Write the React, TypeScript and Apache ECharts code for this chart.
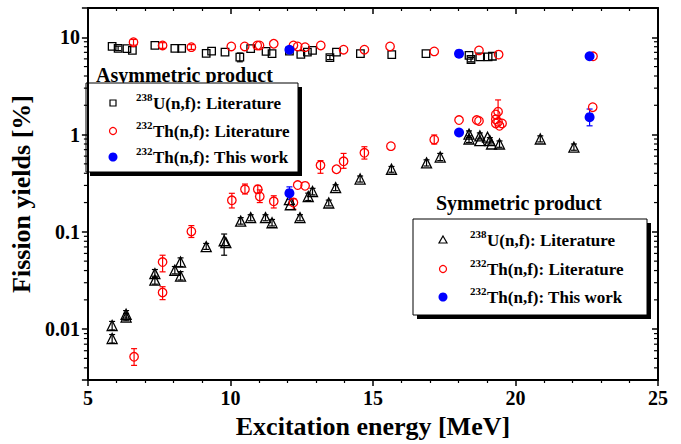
import React, { useEffect, useRef } from 'react';
import * as echarts from 'echarts';

const FONT = '"Liberation Serif", "Times New Roman", serif';

const X_MIN = 5;
const X_MAX = 25;
const Y_MIN = 0.003;
const Y_MAX = 20;
const yTickLabels = ['0.01', '0.1', '1', '10'];

// Asymmetric product
const uAsym: number[][] = [
  [5.85, 8.05], [6.06, 7.69], [6.37, 7.63], [6.56, 7.33], [7.35, 8.24], [8.05, 7.69], [8.29, 7.69],
  [9.15, 6.84], [9.34, 7.22], [9.81, 7.05], [10.33, 6.24], [10.71, 7.63], [11.25, 7.16], [11.46, 6.78],
  [12.07, 7.2], [12.47, 6.68], [12.70, 7.05], [12.88, 7.33], [13.49, 6.19], [13.72, 7.05], [14.56, 6.78],
  [15.66, 6.64], [16.86, 6.78], [18.37, 6.53], [18.44, 5.91], [18.75, 6.28], [19.04, 6.28], [19.19, 6.38],
];
const uAsymErr: number[][] = [
  [6.06, 7.3, 8.1], [10.33, 5.6, 6.9], [18.44, 5.6, 6.2], [13.49, 5.9, 6.5],
];
const thAsym: number[][] = [
  [6.60, 8.9], [7.62, 8.24], [8.63, 7.92], [10.03, 8.05], [10.50, 8.05], [10.94, 8.24], [11.02, 8.24],
  [11.52, 8.58], [12.21, 8.24], [12.36, 8.05], [12.62, 7.92], [13.17, 8.24], [13.97, 7.45], [14.70, 7.45],
  [15.60, 8.05], [17.15, 7.16], [18.72, 7.33], [19.41, 6.64], [22.72, 6.38],
];
const thAsymErr: number[][] = [
  [6.60, 8.3, 9.5], [7.62, 7.7, 8.8], [8.63, 7.5, 8.4],
];
const thAsymWork: number[][] = [
  [12.07, 7.45], [18.02, 6.78], [22.60, 6.38],
];

// Symmetric product
const uSym: number[][] = [
  [5.85, 0.0109], [5.85, 0.0080], [6.34, 0.0142], [6.34, 0.0133], [7.35, 0.0372], [7.35, 0.0319],
  [8.05, 0.0403], [8.25, 0.0489], [8.25, 0.0351], [9.15, 0.0705], [9.78, 0.081], [9.84, 0.0775],
  [10.36, 0.129], [10.71, 0.140], [11.23, 0.140], [11.46, 0.124], [12.07, 0.214], [12.10, 0.19],
  [12.44, 0.140], [12.73, 0.231], [12.88, 0.260], [13.45, 0.198], [13.69, 0.285], [14.55, 0.349],
  [15.65, 0.44], [16.88, 0.512], [17.36, 0.587], [18.37, 1.01], [18.37, 0.90], [18.75, 0.97],
  [18.75, 0.866], [19.02, 0.94], [19.10, 0.866], [19.16, 0.80], [19.44, 0.80], [20.87, 0.90], [22.05, 0.742],
];
const uSymErr: number[][] = [
  [5.85, 0.0098, 0.0120], [5.85, 0.0072, 0.0088], [6.34, 0.0130, 0.0155], [6.34, 0.0122, 0.0145],
  [7.35, 0.034, 0.041], [7.35, 0.029, 0.035], [8.05, 0.037, 0.044], [8.25, 0.044, 0.054],
  [8.25, 0.032, 0.039], [9.15, 0.066, 0.076], [9.78, 0.0575, 0.095], [10.36, 0.12, 0.14],
  [10.71, 0.13, 0.15], [11.23, 0.13, 0.15], [11.46, 0.115, 0.134], [12.07, 0.19, 0.24],
  [12.44, 0.13, 0.15], [12.73, 0.21, 0.25], [12.88, 0.24, 0.28], [13.45, 0.185, 0.212],
  [13.69, 0.265, 0.305], [14.55, 0.325, 0.375], [15.65, 0.41, 0.47], [16.88, 0.475, 0.55],
  [17.36, 0.54, 0.64], [18.37, 0.93, 1.09], [18.37, 0.83, 0.97], [18.75, 0.90, 1.04],
  [19.10, 0.80, 0.93], [19.44, 0.74, 0.86], [20.87, 0.84, 0.97], [22.05, 0.69, 0.80],
];
const thSym: number[][] = [
  [6.62, 0.0052], [7.62, 0.0238], [7.62, 0.0489], [8.63, 0.101], [10.05, 0.211], [10.51, 0.274],
  [10.96, 0.274], [11.03, 0.231], [11.52, 0.206], [12.21, 0.20], [12.36, 0.303], [12.62, 0.297],
  [13.16, 0.483], [13.72, 0.44], [13.97, 0.531], [14.70, 0.65], [15.63, 0.76], [17.15, 0.886],
  [18.02, 1.41], [18.64, 1.41], [18.72, 1.38], [19.31, 1.61], [19.39, 1.72], [19.31, 1.436],
  [19.39, 1.35], [19.31, 1.30], [19.53, 1.30], [19.44, 1.23], [22.71, 1.91],
];
const thSymErr: number[][] = [
  [6.62, 0.00424, 0.0063], [7.62, 0.0201, 0.0273], [7.62, 0.0388, 0.0575], [8.63, 0.0875, 0.116],
  [10.05, 0.176, 0.249], [10.51, 0.245, 0.31], [10.96, 0.25, 0.30], [11.03, 0.20, 0.27],
  [11.52, 0.176, 0.235], [12.21, 0.17, 0.22], [13.16, 0.40, 0.54], [13.97, 0.45, 0.64],
  [14.70, 0.56, 0.75], [17.15, 0.80, 0.99], [19.39, 1.45, 2.27],
];
const thSymWork: number[][] = [
  [12.07, 0.25], [18.02, 1.05], [22.60, 1.51],
];
const thSymWorkErr: number[][] = [
  [12.07, 0.215, 0.29], [22.60, 1.23, 1.83],
];

const BLACK = '#000000';
const RED = '#ff0000';
const BLUE = '#0000ff';

function errSeries(data: number[][], color: string) {
  return {
    type: 'custom',
    xAxisIndex: 0,
    yAxisIndex: 0,
    silent: true,
    clip: false,
    z: 3,
    data,
    encode: { x: 0, y: [1, 2] },
    renderItem: (_p: any, api: any) => {
      const x = api.value(0);
      const a = api.coord([x, api.value(1)]);
      const b = api.coord([x, api.value(2)]);
      const w = 3;
      const st = { stroke: color, lineWidth: 1.2, fill: 'none' };
      return {
        type: 'group',
        children: [
          { type: 'line', shape: { x1: a[0], y1: a[1], x2: b[0], y2: b[1] }, style: st },
          { type: 'line', shape: { x1: a[0] - w, y1: a[1], x2: a[0] + w, y2: a[1] }, style: st },
          { type: 'line', shape: { x1: b[0] - w, y1: b[1], x2: b[0] + w, y2: b[1] }, style: st },
        ],
      };
    },
  };
}

function scatter(data: number[][], symbol: string, size: number, color: string, filled: boolean, z: number) {
  return {
    type: 'scatter',
    xAxisIndex: 0,
    yAxisIndex: 0,
    data,
    symbol,
    symbolSize: size,
    z,
    silent: true,
    itemStyle: filled
      ? { color, borderWidth: 0, opacity: 1 }
      : { color: 'rgba(0,0,0,0)', borderColor: color, borderWidth: 1.3, opacity: 1 },
  };
}

function legendBox(
  bx: number, by: number, bw: number, bh: number,
  title: string, tx: number, ty: number,
  rows: number[], symX: number, supX: number,
  firstSymbol: 'square' | 'triangle',
) {
  const els: any[] = [];
  els.push({ type: 'text', x: tx, y: ty, style: { text: title, fontFamily: FONT, fontWeight: 'bold', fontSize: 20, fill: '#000', align: 'left', verticalAlign: 'middle' } });
  els.push({ type: 'rect', shape: { x: bx + 4, y: by + 4, width: bw, height: bh }, style: { fill: '#000' } });
  els.push({ type: 'rect', shape: { x: bx, y: by, width: bw, height: bh }, style: { fill: '#fff', stroke: '#000', lineWidth: 1 } });
  const sups = ['238', '232', '232'];
  const mains = ['U(n,f): Literature', 'Th(n,f): Literature', 'Th(n,f): This work'];
  rows.forEach((ry, i) => {
    if (i === 0) {
      if (firstSymbol === 'square') {
        els.push({ type: 'rect', shape: { x: symX - 3, y: ry - 3, width: 6, height: 6 }, style: { fill: 'none', stroke: BLACK, lineWidth: 1.2 } });
      } else {
        els.push({ type: 'polygon', shape: { points: [[symX, ry - 4], [symX + 4, ry + 3], [symX - 4, ry + 3]] }, style: { fill: 'none', stroke: BLACK, lineWidth: 1.2 } });
      }
    } else if (i === 1) {
      els.push({ type: 'circle', shape: { cx: symX, cy: ry, r: 3.5 }, style: { fill: 'none', stroke: RED, lineWidth: 1.2 } });
    } else {
      els.push({ type: 'circle', shape: { cx: symX, cy: ry, r: 4.5 }, style: { fill: BLUE } });
    }
    els.push({ type: 'text', x: supX, y: ry - 6, style: { text: sups[i], fontFamily: FONT, fontWeight: 'bold', fontSize: 11, fill: '#000', align: 'left', verticalAlign: 'middle' } });
    els.push({ type: 'text', x: supX + 17, y: ry, style: { text: mains[i], fontFamily: FONT, fontWeight: 'bold', fontSize: 17, fill: '#000', align: 'left', verticalAlign: 'middle' } });
  });
  return { type: 'group', children: els, z: 100 };
}

export default function App() {
  const ref = useRef<HTMLDivElement>(null);
  useEffect(() => {
    const chart = echarts.init(ref.current!, null, { renderer: 'svg' });

    const minorVals: number[] = [];
    for (let d = -3; d <= 1; d++) {
      for (let k = 2; k <= 9; k++) {
        const v = k * Math.pow(10, d);
        if (v > Y_MIN && v < Y_MAX) minorVals.push(v);
      }
    }

    const axisLineStyle = { color: '#000', width: 2 };
    const option: any = {
      animation: false,
      backgroundColor: '#fff',
      grid: { left: 82, right: 23, top: 8, bottom: 61, containLabel: false },
      xAxis: [
        {
          type: 'value', min: X_MIN, max: X_MAX, interval: 5, position: 'bottom',
          name: 'Excitation energy [MeV]', nameLocation: 'middle', nameGap: 33,
          nameTextStyle: { fontFamily: FONT, fontWeight: 'bold', fontSize: 26, color: '#000' },
          axisLine: { lineStyle: axisLineStyle },
          axisTick: { inside: false, length: 6, lineStyle: { color: '#000', width: 1.5 } },
          minorTick: { show: true, splitNumber: 5, length: 3, lineStyle: { color: '#000', width: 1.2 } },
          axisLabel: { margin: 8, fontFamily: FONT, fontWeight: 'bold', fontSize: 20, color: '#000' },
          splitLine: { show: false },
        },
        {
          type: 'value', min: X_MIN, max: X_MAX, interval: 5, position: 'top',
          axisLine: { lineStyle: axisLineStyle },
          axisTick: { inside: true, length: 6, lineStyle: { color: '#000', width: 1.5 } },
          minorTick: { show: true, splitNumber: 5, length: 3, lineStyle: { color: '#000', width: 1.2 } },
          axisLabel: { show: false },
          splitLine: { show: false },
        },
      ],
      yAxis: [
        {
          type: 'log', logBase: 10, min: Y_MIN, max: Y_MAX, position: 'left',
          name: 'Fission yields [%]', nameLocation: 'middle', nameGap: 43, nameRotate: 90,
          nameTextStyle: { fontFamily: FONT, fontWeight: 'bold', fontSize: 26, color: '#000' },
          axisLine: { lineStyle: axisLineStyle },
          axisTick: { inside: false, length: 6, lineStyle: { color: '#000', width: 1.5 } },
          axisLabel: {
            margin: 8, fontFamily: FONT, fontWeight: 'bold', fontSize: 20, color: '#000',
            formatter: (v: number) => {
              const l = Math.log10(v);
              const r = Math.round(l);
              if (Math.abs(l - r) > 1e-6) return '';
              return yTickLabels[r + 2] ?? '';
            },
          },
          splitLine: { show: false },
        },
        {
          type: 'log', logBase: 10, min: Y_MIN, max: Y_MAX, position: 'right',
          axisLine: { lineStyle: axisLineStyle },
          axisTick: { inside: true, length: 6, lineStyle: { color: '#000', width: 1.5 } },
          axisLabel: { show: false },
          splitLine: { show: false },
        },
      ],
      series: [
        {
          type: 'custom',
          xAxisIndex: 0,
          yAxisIndex: 0,
          silent: true,
          clip: false,
          z: 1,
          data: minorVals.map((v) => [X_MIN, v]),
          encode: { x: 0, y: 1 },
          renderItem: (_p: any, api: any) => {
            const l = api.coord([X_MIN, api.value(1)]);
            const r = api.coord([X_MAX, api.value(1)]);
            const st = { stroke: '#000', lineWidth: 1.2 };
            return {
              type: 'group',
              children: [
                { type: 'line', shape: { x1: l[0] - 4, y1: l[1], x2: l[0], y2: l[1] }, style: st },
                { type: 'line', shape: { x1: r[0] - 4, y1: r[1], x2: r[0], y2: r[1] }, style: st },
              ],
            };
          },
        },
        errSeries(uAsymErr, BLACK),
        errSeries(uSymErr, BLACK),
        errSeries(thAsymErr, RED),
        errSeries(thSymErr, RED),
        errSeries(thSymWorkErr, BLUE),
        scatter(uAsym, 'rect', 7.5, BLACK, false, 4),
        scatter(uSym, 'triangle', 10, BLACK, false, 4),
        scatter(thAsym, 'circle', 8.5, RED, false, 5),
        scatter(thSym, 'circle', 8.5, RED, false, 5),
        scatter(thAsymWork, 'circle', 10, BLUE, true, 6),
        scatter(thSymWork, 'circle', 10, BLUE, true, 6),
      ],
      graphic: [
        legendBox(86, 83, 212, 89, 'Asymmetric product', 96, 75, [103, 131, 157], 113, 136, 'square'),
        legendBox(413, 219, 234, 96, 'Symmetric product', 436, 203, [240, 269, 297], 443, 470, 'triangle'),
      ],
    };
    chart.setOption(option);
    return () => chart.dispose();
  }, []);
  return <div ref={ref} style={{ position: 'fixed', left: 0, top: 0, width: 681, height: 444 }} />;
}
